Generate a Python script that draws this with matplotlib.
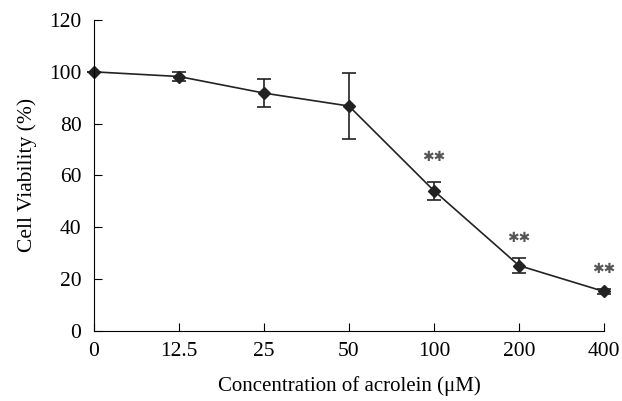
import numpy as np
import matplotlib.pyplot as plt

plt.rcParams['font.family'] = ['Liberation Serif', 'DejaVu Serif']

conc = ['0', '12.5', '25', '50', '100', '200', '400']
viability = [100, 98.2, 91.8, 86.8, 54.1, 25.2, 15.2]
err = [0, 1.7, 5.5, 12.6, 3.4, 2.9, 1.1]
stars = ['', '', '', '', '**', '**', '**']
star_y = [0, 0, 0, 0, 67, 36, 24]

fig = plt.figure(figsize=(6.22, 4.01), dpi=100)
ax = fig.add_axes([0.151, 0.175, 0.82, 0.775])

x = np.arange(len(conc))
ax.errorbar(x, viability, yerr=err, color='#222222', lw=1.2, marker='D',
            markersize=6, capsize=5, elinewidth=1.2, capthick=1.2, clip_on=False)

for i in range(len(conc)):
    if stars[i]:
        ax.text(x[i], star_y[i], '\u2731\u2731', ha='center', va='center',
                fontsize=10, color='#555555', family='DejaVu Sans')

ax.set_xlim(0, 6)
ax.set_ylim(0, 120)
ax.set_xticks(x)
ax.set_xticklabels(conc)
ax.set_yticks(np.arange(0, 121, 20))
ax.spines['top'].set_visible(False)
ax.spines['right'].set_visible(False)
ax.tick_params(direction='in', length=6, labelsize=15.5)
ax.tick_params(axis='y', pad=9)
ax.tick_params(axis='x', pad=8)
ax.set_xlabel('Concentration of acrolein (μM)', fontsize=15, labelpad=11)
ax.set_ylabel('Cell Viability (%)', fontsize=15.5, labelpad=9)

plt.savefig('out.png', dpi=100)
